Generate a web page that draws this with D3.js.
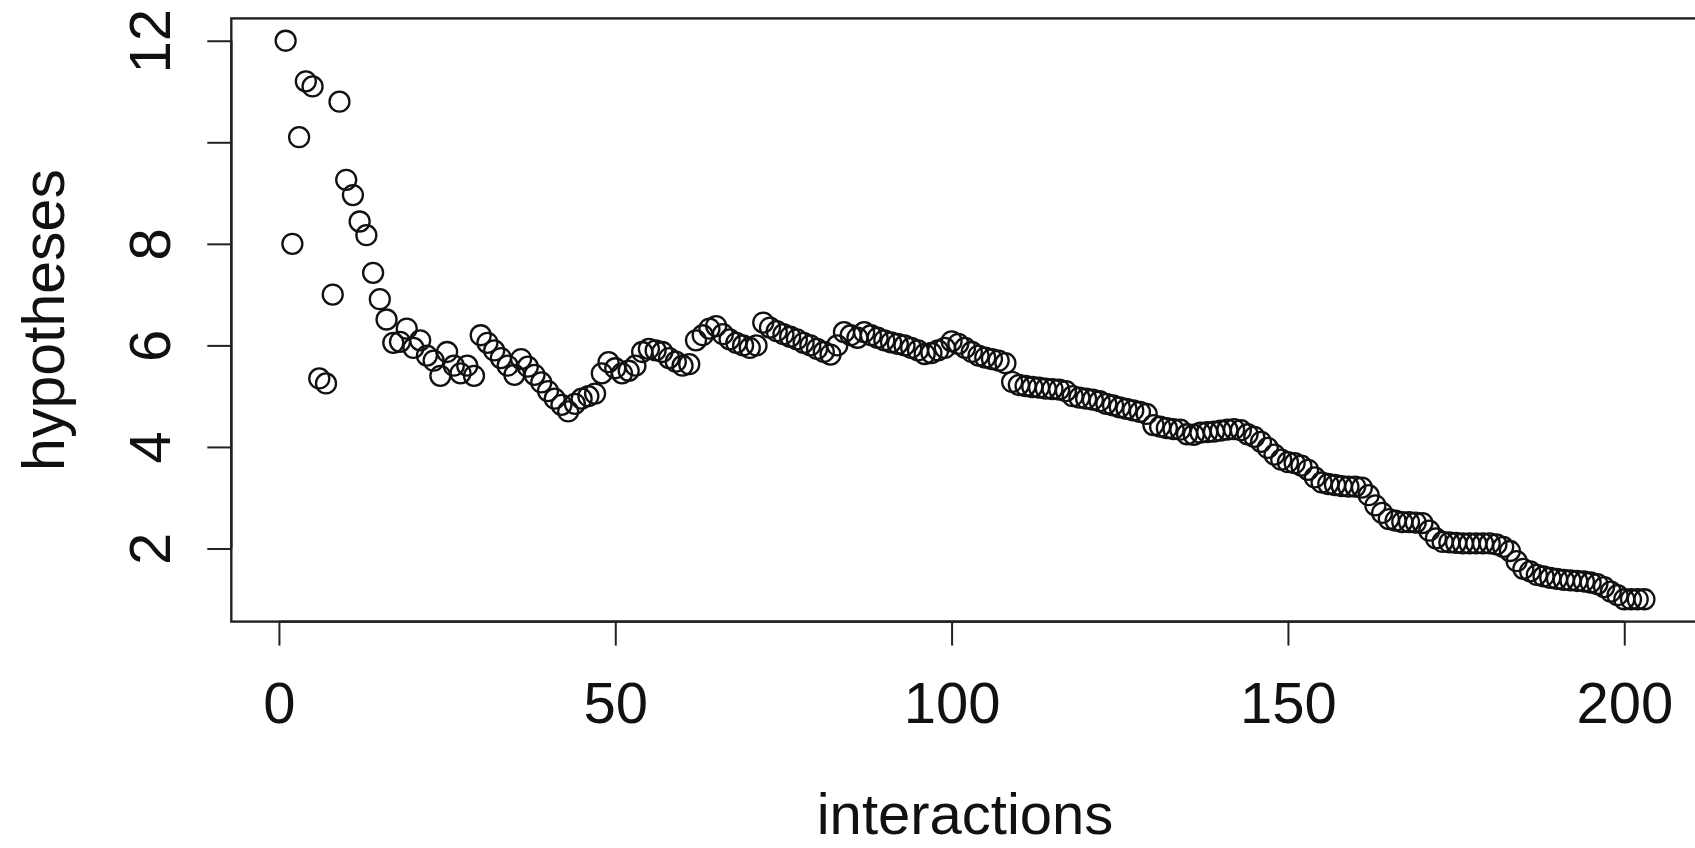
<!DOCTYPE html>
<html>
<head>
<meta charset="utf-8">
<script src="https://cdn.jsdelivr.net/npm/d3@7"></script>
<style>
  html, body { margin: 0; padding: 0; background: #fff; }
  svg { display: block; }
  text { font-family: "Liberation Sans", Arial, Helvetica, sans-serif; fill: #111; }
</style>
</head>
<body>
<svg id="chart" width="1695" height="848"></svg>
<script>
// ---- data ----
const hypotheses = [
  12, 8, 10.1, 11.2, 11.1, 5.35, 5.25, 7.0, 10.8, 9.26,
  8.96, 8.44, 8.17, 7.43, 6.91, 6.51, 6.05, 6.07, 6.33, 5.95,
  6.1, 5.8, 5.7, 5.4, 5.87, 5.6, 5.45, 5.6, 5.4, 6.2,
  6.05, 5.9, 5.75, 5.6, 5.42, 5.73, 5.58, 5.42, 5.27, 5.1,
  4.95, 4.83, 4.7, 4.85, 4.95, 5.0, 5.05, 5.45, 5.67, 5.55,
  5.45, 5.5, 5.6, 5.87, 5.93, 5.9, 5.87, 5.75, 5.68, 5.6,
  5.63, 6.1, 6.2, 6.33, 6.38, 6.22, 6.12, 6.05, 6.0, 5.95,
  6.0, 6.45, 6.35, 6.28, 6.22, 6.17, 6.12, 6.05, 6.0, 5.93,
  5.87, 5.82, 6.0, 6.26, 6.2, 6.15, 6.26, 6.2, 6.15, 6.1,
  6.06, 6.03, 6.0, 5.95, 5.9, 5.83, 5.85, 5.9, 5.95, 6.08,
  6.03, 5.95, 5.87, 5.8, 5.76, 5.73, 5.7, 5.65, 5.28, 5.22,
  5.2, 5.18, 5.17, 5.15, 5.14, 5.13, 5.1, 5.0, 4.97, 4.95,
  4.93, 4.9, 4.85, 4.82, 4.78, 4.75, 4.72, 4.69, 4.65, 4.43,
  4.4, 4.37, 4.35, 4.34, 4.25, 4.24, 4.28, 4.29, 4.3, 4.32,
  4.34, 4.35, 4.33, 4.25, 4.2, 4.1, 3.98, 3.85, 3.75, 3.7,
  3.68, 3.63, 3.55, 3.4, 3.3, 3.27, 3.25, 3.23, 3.22, 3.22,
  3.2, 3.05, 2.85, 2.7, 2.58, 2.55, 2.52, 2.52, 2.51, 2.5,
  2.35, 2.2, 2.13, 2.12, 2.11, 2.1, 2.1, 2.1, 2.1, 2.1,
  2.08, 2.03, 1.95, 1.75, 1.6, 1.55, 1.48, 1.45, 1.42, 1.4,
  1.38, 1.37, 1.36, 1.35, 1.33, 1.3, 1.24, 1.15, 1.08, 1.0,
  1.0, 1.0, 1.0
];
const interactions = hypotheses.map((_, i) => i + 1);
const xTicks = [0, 50, 100, 150, 200];
const yTicks = [2, 4, 6, 8, 10, 12];
const yTickLabels = ["2", "4", "6", "8", "", "12"];
const xTitle = "interactions";
const yTitle = "hypotheses";

// ---- layout ----
const box = { left: 231.3, top: 18.4, right: 1698.8, bottom: 621.6 };
const svg = d3.select("#chart");
svg.append("rect").attr("width", 1695).attr("height", 848).attr("fill", "#fff");

// R-style 4% extended ranges
const xr = d3.extent(interactions), yr = d3.extent(hypotheses);
const xPad = (xr[1] - xr[0]) * 0.04, yPad = (yr[1] - yr[0]) * 0.04;
const x = d3.scaleLinear().domain([xr[0] - xPad, xr[1] + xPad]).range([box.left, box.right]);
const y = d3.scaleLinear().domain([yr[0] - yPad, yr[1] + yPad]).range([box.bottom, box.top]);

const fontSize = 58;
const tickLen = 24;

// points
svg.append("g")
  .selectAll("circle")
  .data(hypotheses)
  .join("circle")
  .attr("cx", (d, i) => x(interactions[i]))
  .attr("cy", d => y(d))
  .attr("r", 10)
  .attr("fill", "none")
  .attr("stroke", "#111")
  .attr("stroke-width", 2.3);

// box
svg.append("rect")
  .attr("x", box.left).attr("y", box.top)
  .attr("width", box.right - box.left).attr("height", box.bottom - box.top)
  .attr("fill", "none").attr("stroke", "#222").attr("stroke-width", 2.4);

// x axis
const xAxis = d3.axisBottom(x).tickValues(xTicks).tickSize(tickLen).tickPadding(0).tickFormat(d3.format("d"));
const gx = svg.append("g").attr("transform", `translate(0,${box.bottom})`).call(xAxis);
gx.select(".domain").attr("d", `M${x(xTicks[0])},0H${x(xTicks[xTicks.length-1])}`).attr("stroke", "#222").attr("stroke-width", 2.4);
gx.selectAll(".tick line").attr("stroke", "#222").attr("stroke-width", 2);
gx.selectAll(".tick text")
  .attr("font-size", fontSize)
  .attr("font-family", "Liberation Sans, Arial, sans-serif")
  .attr("fill", "#111")
  .attr("dy", null)
  .attr("y", 723 - box.bottom);

// y axis
const yAxis = d3.axisLeft(y).tickValues(yTicks).tickSize(tickLen).tickPadding(0)
  .tickFormat((d, i) => yTickLabels[i]);
const gy = svg.append("g").attr("transform", `translate(${box.left},0)`).call(yAxis);
gy.select(".domain").attr("d", `M0,${y(yTicks[0])}V${y(yTicks[yTicks.length-1])}`).attr("stroke", "#222").attr("stroke-width", 2.4);
gy.selectAll(".tick line").attr("stroke", "#222").attr("stroke-width", 2);
gy.selectAll(".tick text")
  .attr("font-size", fontSize)
  .attr("font-family", "Liberation Sans, Arial, sans-serif")
  .attr("fill", "#111")
  .attr("x", null).attr("dy", null)
  .attr("text-anchor", "middle")
  .attr("transform", `translate(${170 - box.left},0) rotate(-90)`);

// titles
svg.append("text")
  .attr("x", (box.left + box.right) / 2)
  .attr("y", 834)
  .attr("text-anchor", "middle")
  .attr("font-size", fontSize)
  .text(xTitle);

svg.append("text")
  .attr("transform", `translate(64,${(box.top + box.bottom) / 2}) rotate(-90)`)
  .attr("text-anchor", "middle")
  .attr("font-size", fontSize + 1)
  .text(yTitle);
</script>
</body>
</html>
